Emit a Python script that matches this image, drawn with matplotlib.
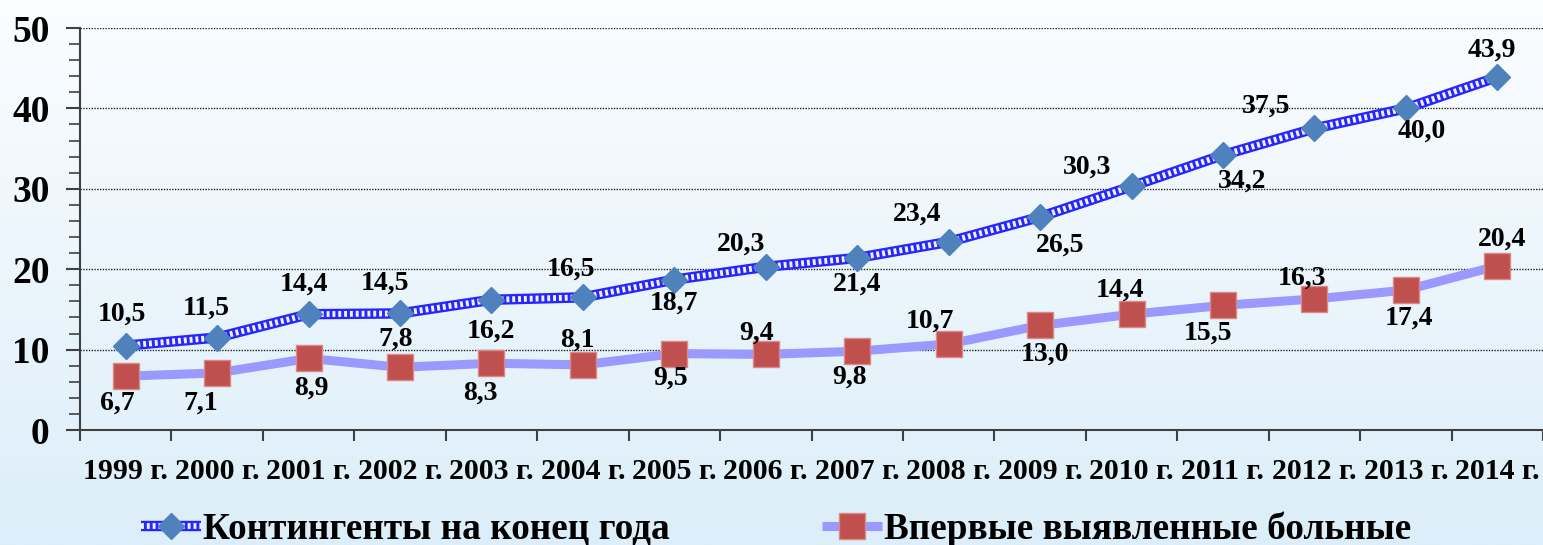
import numpy as np
import matplotlib
matplotlib.use("Agg")
import matplotlib.pyplot as plt
from matplotlib.lines import Line2D
from matplotlib.legend_handler import HandlerTuple

# ---- data ----
years = ["1999 г.", "2000 г.", "2001 г.", "2002 г.", "2003 г.", "2004 г.", "2005 г.", "2006 г.",
         "2007 г.", "2008 г.", "2009 г.", "2010 г.", "2011 г.", "2012 г.", "2013 г.", "2014 г."]
contingents = [10.5, 11.5, 14.4, 14.5, 16.2, 16.5, 18.7, 20.3, 21.4, 23.4, 26.5, 30.3, 34.2, 37.5, 40.0, 43.9]
new_cases = [6.7, 7.1, 8.9, 7.8, 8.3, 8.1, 9.5, 9.4, 9.8, 10.7, 13.0, 14.4, 15.5, 16.3, 17.4, 20.4]
series_names = ["Контингенты на конец года", "Впервые выявленные больные"]
y_ticks = [0, 10, 20, 30, 40, 50]

# label offsets in pixels (dx, dy; dy positive = down)
blue_off = [(-4, -31), (-11, -29), (-5, -30), (-15, -30), (0, 31), (-12, -28), (0, 24), (-25, -23),
            (0, 26), (-32, -28), (20, 28), (-44, -19), (19, 26), (-48, -22), (16, 23), (-5, -27)]
red_off = [(-8, 27), (-16, 30), (3, 30), (-4, -28), (-11, 30), (-6, -25), (-4, 25), (-9, -21),
           (-8, 26), (-19, -23), (5, 29), (-12, -24), (-15, 28), (-12, -21), (3, 28), (5, -27)]

W, H = 1543, 545
fig = plt.figure(figsize=(W / 100, H / 100), dpi=100)

# background gradient
bg = fig.add_axes([0, 0, 1, 1], zorder=-10)
top = np.array([0xFB, 0xFD, 0xFF]) / 255
bot = np.array([0xDC, 0xEE, 0xF9]) / 255
t = np.linspace(0, 1, 256)[:, None]
grad = (top[None, :] * (1 - t) + bot[None, :] * t)[:, None, :]
bg.imshow(grad, aspect="auto", extent=[0, 1, 0, 1], interpolation="bilinear")
bg.axis("off")

ax = fig.add_axes([80 / W, 1 - 430 / H, (W - 80) / W, (430 - 28) / H])
ax.set_facecolor("none")

serif = "Liberation Serif"
n = len(years)
x = np.arange(n)

BLUE_BASE = "#2626FF"
BLUE_DOT = "#F2F2FF"

# red series (new cases)
ax.plot(x, new_cases, color="#9999FF", lw=6.5, solid_capstyle="butt", zorder=3)
ax.plot(x, new_cases, ls="none", marker="s", ms=18.5, color="#C0504D",
        markeredgecolor="#D98A88", mew=1, zorder=5)

# blue series (contingents) - patterned line
ax.plot(x, contingents, color=BLUE_BASE, lw=7.5, solid_capstyle="butt", zorder=3)
ax.plot(x, contingents, color=BLUE_DOT, lw=4.2, ls=(0, (0.5, 0.5)), zorder=4)
ax.plot(x, contingents, ls="none", marker="D", ms=13.2, color="#4F81BD",
        markeredgecolor="#4F81BD", zorder=5)

ax.set_xlim(-0.5, n - 0.5)
ax.set_ylim(0, 50)

# grid
for yv in y_ticks[1:]:
    ax.axhline(yv, color="#222222", lw=1.0, ls=(0, (1, 1)), zorder=1)

# spines
for s in ["top", "right"]:
    ax.spines[s].set_visible(False)
for s in ["left", "bottom"]:
    ax.spines[s].set_color("#404040")
    ax.spines[s].set_linewidth(1.5)

ax.set_yticks(y_ticks)
ax.set_yticks(np.arange(0, 51, 2), minor=True)
ax.tick_params(axis="y", which="major", length=10, width=1.5, color="#404040", pad=12,
               labelsize=27)
ax.tick_params(axis="y", which="minor", length=8, width=1.2, color="#404040")
for lab in ax.get_yticklabels():
    lab.set_fontfamily(serif)
    lab.set_fontweight("bold")

ax.set_xticks(np.arange(0, n + 1) - 0.5)
ax.set_xticklabels([])
ax.set_xticks(x, minor=True)
ax.set_xticklabels(years, minor=True)
ax.tick_params(axis="x", which="major", length=8, width=1.5, color="#404040")
ax.tick_params(axis="x", which="minor", length=0, pad=20, labelsize=21.5)
for lab in ax.get_xticklabels(minor=True):
    lab.set_fontfamily(serif)
    lab.set_fontweight("bold")

# data labels
def fmt(v):
    return f"{v:.1f}".replace(".", ",")

for vals, offs in ((contingents, blue_off), (new_cases, red_off)):
    for i, v in enumerate(vals):
        dx, dy = offs[i]
        ax.annotate(fmt(v), (x[i], v), xytext=(dx, -dy), textcoords="offset pixels",
                    ha="center", va="center", fontsize=20, fontweight="bold",
                    fontfamily=serif, zorder=6, annotation_clip=False)

# legend
h1 = (Line2D([], [], color=BLUE_BASE, lw=7.5, solid_capstyle="butt"),
      Line2D([], [], color=BLUE_DOT, lw=4.2, ls=(0, (0.5, 0.5))),
      Line2D([], [], ls="none", marker="D", ms=13.2, color="#4F81BD"))
h2 = (Line2D([], [], color="#9999FF", lw=6.5, solid_capstyle="butt"),
      Line2D([], [], ls="none", marker="s", ms=18.5, color="#C0504D",
             markeredgecolor="#D98A88", mew=1))
fig.legend([h1, h2], series_names, handler_map={tuple: HandlerTuple(ndivide=1, pad=0)},
           loc="center", bbox_to_anchor=(0.503, 0.029), ncol=2, frameon=False,
           prop={"family": serif, "weight": "bold", "size": 26.8},
           handlelength=1.62, handletextpad=0.05, columnspacing=4.1, borderpad=0)

fig.savefig("out.png", dpi=100)
